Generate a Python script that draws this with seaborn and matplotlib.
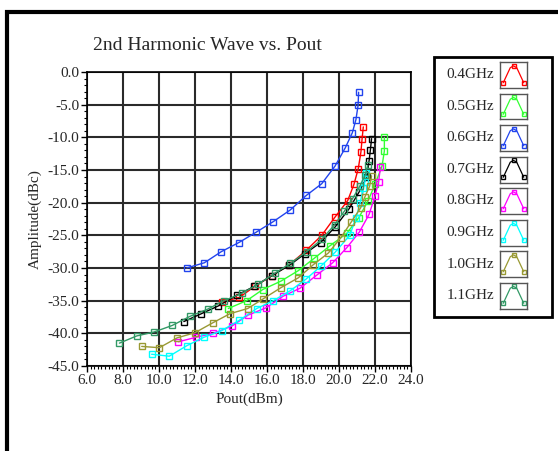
import matplotlib
matplotlib.use('Agg')
import matplotlib.pyplot as plt
from matplotlib.patches import Rectangle
from matplotlib.ticker import MultipleLocator, FormatStrFormatter
import seaborn as sns

# datos
labels = ['0.4GHz', '0.5GHz', '0.6GHz', '0.7GHz', '0.8GHz', '0.9GHz', '1.0GHz', '1.1GHz']
colors = ['#FF0000', '#33FF33', '#2244EE', '#000000', '#FF00FF', '#00FFFF', '#999933', '#339966']

x_04 = [13.5, 14.46, 15.33, 16.26, 17.24, 18.18, 19.04, 19.78, 20.48, 20.83, 21.07, 21.22, 21.28, 21.35]
y_04 = [-35.2, -34.5, -32.8, -31.2, -29.5, -27.3, -25.0, -22.2, -19.7, -17.2, -14.8, -12.2, -10.3, -8.4]

x_05 = [13.85, 14.87, 15.76, 16.78, 17.74, 18.63, 19.5, 20.43, 21.1, 21.6, 22.0, 22.39, 22.52, 22.52]
y_05 = [-36.2, -35.0, -33.3, -32.0, -30.4, -28.5, -26.6, -24.7, -22.3, -19.8, -17.2, -14.4, -12.1, -10.0]

x_06 = [11.54, 12.52, 13.46, 14.44, 15.41, 16.35, 17.3, 18.18, 19.04, 19.78, 20.35, 20.74, 20.94, 21.06, 21.09]
y_06 = [-30.0, -29.2, -27.5, -26.1, -24.5, -22.9, -21.1, -18.9, -17.1, -14.4, -11.6, -9.3, -7.3, -5.1, -3.1]

x_07 = [11.38, 12.35, 13.3, 14.31, 15.3, 16.25, 17.24, 18.11, 18.98, 19.79, 20.57, 21.11, 21.54, 21.67, 21.74, 21.81]
y_07 = [-38.2, -37.0, -35.8, -34.2, -32.8, -31.2, -29.6, -27.8, -26.1, -23.7, -20.9, -18.4, -16.1, -13.6, -12.0, -10.2]

x_08 = [11.07, 12.06, 13.02, 14.04, 14.96, 15.94, 16.91, 17.83, 18.76, 19.65, 20.43, 21.13, 21.67, 22.0, 22.2, 22.3]
y_08 = [-41.3, -40.6, -40.0, -38.9, -37.2, -36.1, -34.3, -33.1, -31.1, -29.2, -26.9, -24.5, -21.8, -19.0, -16.8, -14.6]

x_09 = [9.59, 10.57, 11.54, 12.5, 13.48, 14.46, 15.43, 16.35, 17.28, 18.17, 19.0, 19.78, 20.6, 20.95, 21.17, 21.35, 21.44, 21.5]
y_09 = [-43.2, -43.5, -41.9, -40.6, -39.6, -38.0, -36.2, -35.0, -33.5, -31.7, -29.7, -27.6, -25.0, -22.3, -20.1, -17.8, -16.8, -15.4]

x_10 = [9.04, 10.02, 11.0, 12.0, 12.98, 13.94, 14.93, 15.8, 16.78, 17.74, 18.57, 19.41, 20.09, 20.67, 21.2, 21.44, 21.7, 21.81]
y_10 = [-42.0, -42.2, -40.7, -39.9, -38.4, -37.0, -36.2, -34.7, -33.0, -31.5, -29.5, -27.7, -25.4, -23.0, -20.8, -19.1, -17.5, -15.9]

x_11 = [7.8, 8.76, 9.72, 10.73, 11.72, 12.7, 13.61, 14.59, 15.5, 16.44, 17.3, 18.2, 19.05, 19.75, 20.3, 20.75, 21.15, 21.45, 21.6]
y_11 = [-41.5, -40.4, -39.8, -38.8, -37.4, -36.3, -35.0, -33.9, -32.5, -30.8, -29.3, -27.5, -25.6, -23.4, -21.3, -19.4, -17.5, -15.8, -14.3]

series = [(x_04, y_04), (x_05, y_05), (x_06, y_06), (x_07, y_07),
          (x_08, y_08), (x_09, y_09), (x_10, y_10), (x_11, y_11)]

# forma del icono de la leyenda
icon_x = [0.12, 0.38, 0.5, 0.62, 0.88]
icon_y = [0.2, 0.78, 0.85, 0.78, 0.2]

sns.set_style('white')
plt.rcParams['font.family'] = ['Liberation Serif', 'DejaVu Serif']

W, H = 558, 451
fig = plt.figure(figsize=(W / 100, H / 100), dpi=100)
ax = fig.add_axes([87 / W, 1 - 366 / H, 324 / W, 294 / H])

for (xs, ys), c in zip(series, colors):
    sns.lineplot(x=xs, y=ys, ax=ax, color=c, sort=False, estimator=None,
                 marker='s', markersize=4.8, markerfacecolor='none',
                 markeredgecolor=c, markeredgewidth=1.0, linewidth=1.0,
                 legend=False)

ax.set_xlim(6, 24)
ax.set_ylim(-45, 0)
ax.xaxis.set_major_locator(MultipleLocator(2))
ax.xaxis.set_minor_locator(MultipleLocator(0.2))
ax.yaxis.set_major_locator(MultipleLocator(5))
ax.yaxis.set_minor_locator(MultipleLocator(1))
ax.xaxis.set_major_formatter(FormatStrFormatter('%.1f'))
ax.yaxis.set_major_formatter(FormatStrFormatter('%.1f'))
ax.tick_params(axis='both', which='major', length=4.5, width=1, labelsize=11,
               direction='out', color='black', pad=1)
ax.tick_params(axis='both', which='minor', length=2.2, width=0.8,
               direction='out', color='black')
ax.tick_params(axis='x', which='both', bottom=True)
ax.tick_params(axis='y', which='both', left=True)
ax.grid(True, which='major', color='#2a2a2a', linewidth=1.5)
ax.set_axisbelow(True)
for s in ax.spines.values():
    s.set_color('black')
    s.set_linewidth(1.2)

ax.set_xlabel('Pout(dBm)', fontsize=11, labelpad=4)
ax.set_ylabel('Amplitude(dBc)', fontsize=11, labelpad=4)
fig.text(207 / W, 1 - 45 / H, '2nd Harmonic Wave vs. Pout', fontsize=14,
         ha='center', va='center')

# marco exterior
fig.patches.append(Rectangle((7 / W, -0.1), 1.2, 1 - 12 / H + 0.1,
                             transform=fig.transFigure, fill=False,
                             edgecolor='black', linewidth=3))

# leyenda a mano
fig.patches.append(Rectangle((434 / W, 1 - 317 / H), 118 / W, 260 / H,
                             transform=fig.transFigure, fill=False,
                             edgecolor='black', linewidth=2))
for i, (lab, c) in enumerate(zip(labels, colors)):
    yc = 75 + i * 31.5
    fig.text(470 / W, 1 - yc / H, lab, fontsize=11, ha='center', va='center')
    iax = fig.add_axes([500 / W, 1 - (yc + 13) / H, 27 / W, 26 / H])
    iax.plot(icon_x, icon_y, color=c, linewidth=0.9, marker='s', markersize=3,
             markerfacecolor='none', markeredgecolor=c, markevery=[0, 2, 4])
    iax.set_xlim(0, 1)
    iax.set_ylim(0, 1)
    iax.set_xticks([])
    iax.set_yticks([])
    for s in iax.spines.values():
        s.set_color('#555555')
        s.set_linewidth(1)

fig.savefig('out.png', dpi=100)
